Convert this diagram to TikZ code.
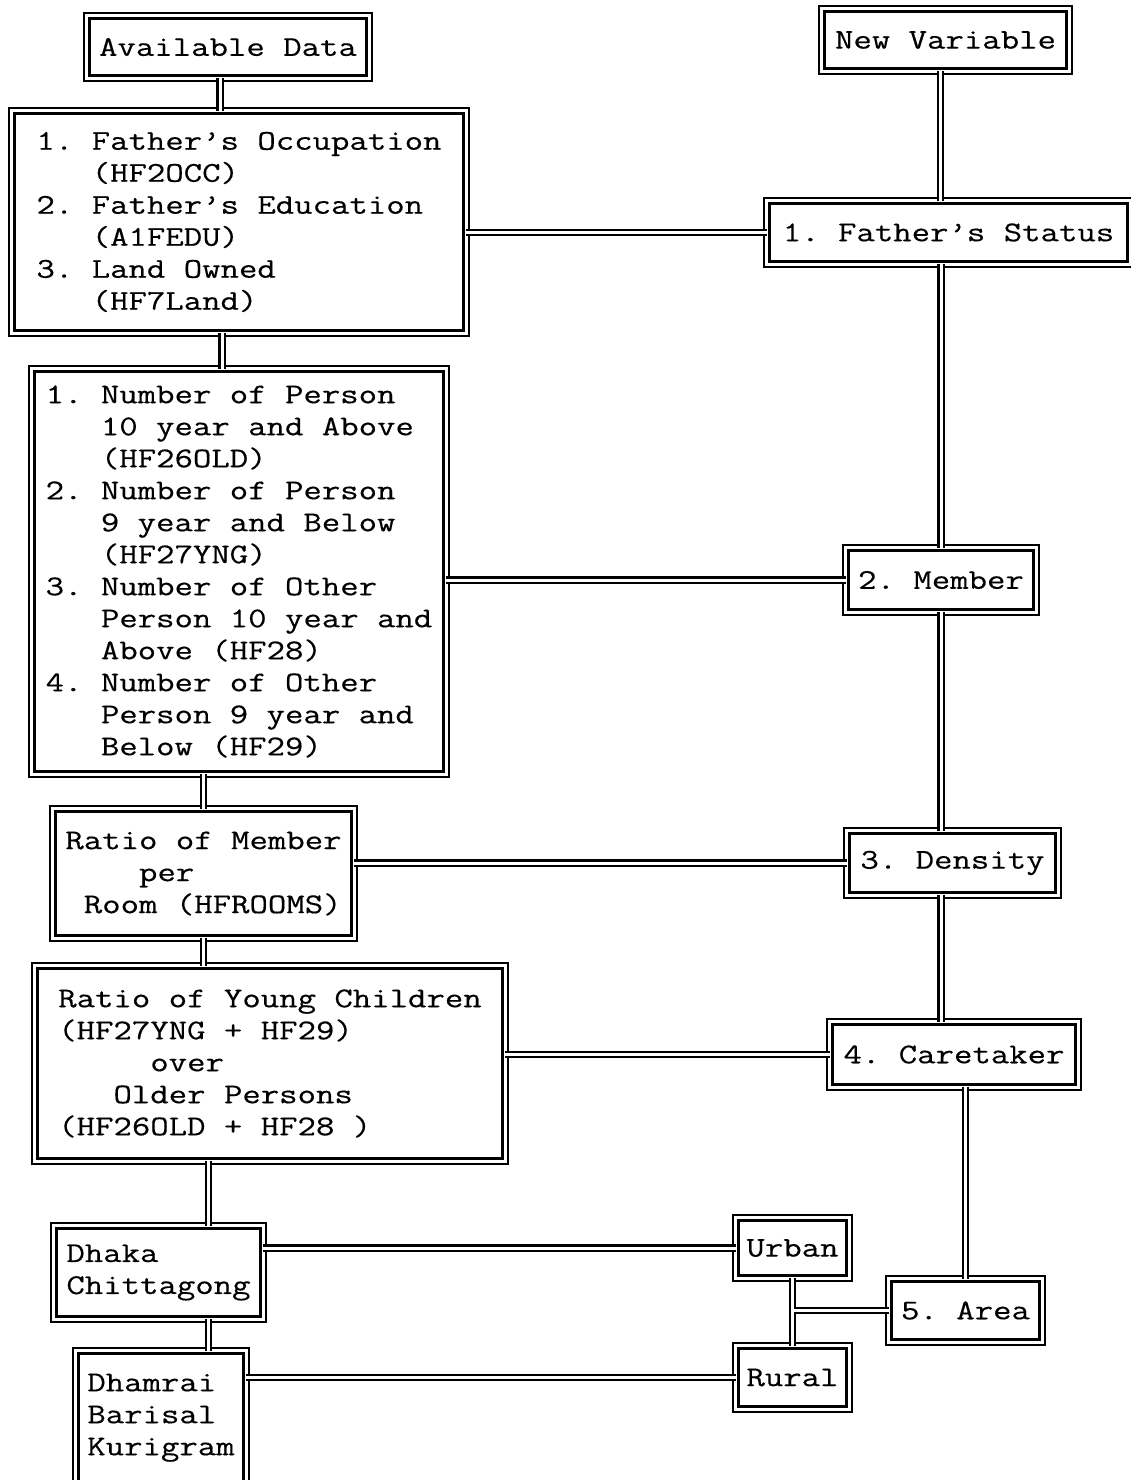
\documentclass[tikz,border=0pt]{standalone}
\usepackage{fontspec}
\setmonofont[FakeStretch=1.25, FakeBold=0.4]{Latin Modern Mono}
\usetikzlibrary{positioning}
\newcommand{\lpad}[1]{\hspace*{#1\fontcharwd\font`x}}

\begin{document}
\begin{tikzpicture}[
      x=1pt, y=-1pt,
      node distance=30pt,
      box/.style 2 args={draw, double, line width=2.4pt, double distance=3pt,
                  outer sep=0pt, inner sep=3pt, align=left,
                  minimum width=#1, minimum height=#2,
                  font=\ttfamily\frenchspacing\fontsize{28.6pt}{32pt}\selectfont},
      dline/.style={draw, double, line width=2.4pt, double distance=3pt}
  ]
    \useasboundingbox (0,0) rectangle (1131,1480);

    % left column: available data
    \node[box={282.5pt}{62.5pt}] (avail) at (228,47) {Available Data};
    \node[box={454.5pt}{222.5pt}, below=32.5pt of avail, xshift=11pt] (facts)
      {1. Father’s Occupation\\\lpad{3}(HF2OCC)\\2. Father’s Education\\
       \lpad{3}(A1FEDU)\\3. Land Owned\\\lpad{3}(HF7Land)};
    \node[box={414.5pt}{405.5pt}, below=35.5pt of facts] (members)
      {1. Number of Person\\\lpad{3}10 year and Above\\\lpad{3}(HF26OLD)\\
       2. Number of Person\\\lpad{3}9 year and Below\\\lpad{3}(HF27YNG)\\
       3. Number of Other\\\lpad{3}Person 10 year and\\\lpad{3}Above (HF28)\\
       4. Number of Other\\\lpad{3}Person 9 year and\\\lpad{3}Below (HF29)};
    \node[box={301.5pt}{129.5pt}, below=34.5pt of members, xshift=-35.5pt] (rooms)
      {Ratio of Member\\\lpad{4}per\\\lpad{1}Room (HFROOMS)};
    \node[box={470.5pt}{195.5pt}, below=27.5pt of rooms, xshift=66.5pt] (young)
      {Ratio of Young Children\\(HF27YNG + HF29)\\\lpad{5}over\\
       \lpad{3}Older Persons\\(HF26OLD + HF28 )};
    \node[box={209.5pt}{93.5pt}, below=64.5pt of young, xshift=-111.5pt] (dhaka)
      {Dhaka\\Chittagong};
    \node[box={170.5pt}{134pt}, below=31.5pt of dhaka, xshift=2.5pt] (dhamrai)
      {Dhamrai\\Barisal\\Kurigram};

    % right column: new variable
    \node[box={247.5pt}{62.5pt}] (newvar) at (945.5,40) {New Variable};
    \node[box={363.5pt}{63.5pt}, below=129.5pt of newvar, xshift=3pt] (father)
      {1. Father’s Status};
    \node[box={190.5pt}{64.5pt}, below=283.5pt of father, xshift=-7.5pt] (member)
      {2. Member};
    \node[box={211.5pt}{64.5pt}, below=218.5pt of member, xshift=11.5pt] (density)
      {3. Density};
    \node[box={248.5pt}{65.5pt}, below=126.5pt of density, xshift=1.5pt] (caretaker)
      {4. Caretaker};
    \node[box={153.5pt}{63.5pt}, below=191.5pt of caretaker, xshift=11.5pt] (area)
      {5. Area};
    \node[box={113.5pt}{60.5pt}] (urban) at (792.5,1248) {Urban};
    \node[box={113.5pt}{63.5pt}, below=67.5pt of urban] (rural) {Rural};

    % vertical links
    \draw[dline] ([xshift=-8pt]avail.south) -- ([xshift=-8pt]avail.south |- facts.north);
    \draw[dline] ([xshift=-17pt]facts.south) -- ([xshift=-17pt]members.north);
    \draw[dline] (rooms.north |- members.south) -- (rooms.north);
    \draw[dline] (rooms.south) -- (rooms.south |- young.north);
    \draw[dline] ([xshift=50pt]dhaka.north |- young.south) -- ([xshift=50pt]dhaka.north);
    \draw[dline] ([xshift=50pt]dhaka.south) -- ([xshift=50pt]dhaka.south |- dhamrai.north);

    \draw[dline] ([xshift=-5pt]newvar.south) -- ([xshift=-5pt]newvar.south |- father.north);
    \draw[dline] (member.north |- father.south) -- (member.north);
    \draw[dline] (member.south) -- (member.south |- density.north);
    \draw[dline] (member.south |- density.south) -- (member.south |- caretaker.north);
    \draw[dline] (area.north |- caretaker.south) -- (area.north);

    % horizontal links
    \draw[dline] (facts.east |- father.west) -- (father.west);
    \draw[dline] (members.east |- member.west) -- (member.west);
    \draw[dline] (rooms.east |- density.west) -- (density.west);
    \draw[dline] (young.east |- caretaker.west) -- (caretaker.west);
    \draw[dline] (dhaka.east |- urban.west) -- (urban.west);
    \draw[dline] (dhamrai.east |- rural.west) -- (rural.west);
    \draw[dline] (urban.south) -- (rural.north) (urban.south |- area.west) -- (area.west);
  \end{tikzpicture}
\end{document}
